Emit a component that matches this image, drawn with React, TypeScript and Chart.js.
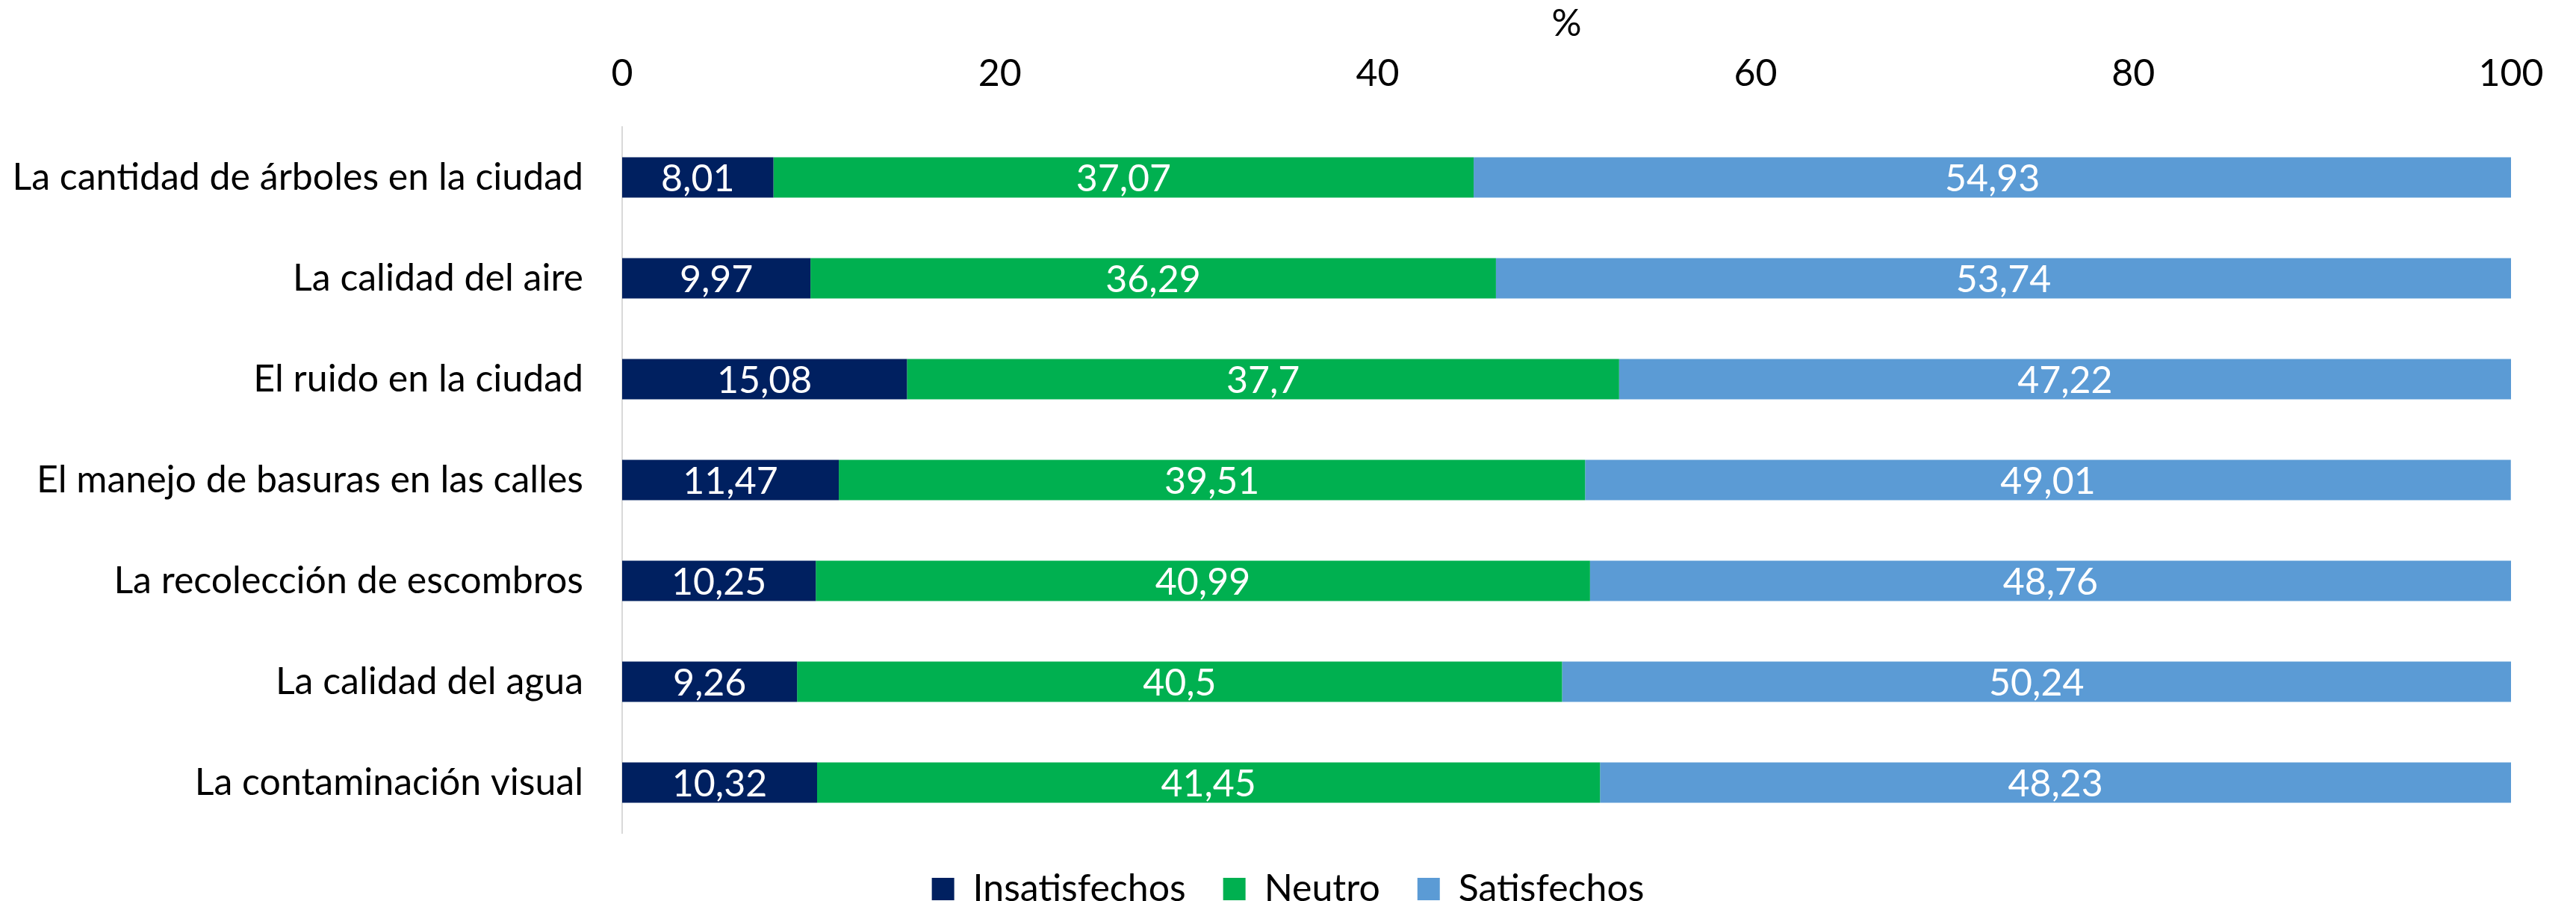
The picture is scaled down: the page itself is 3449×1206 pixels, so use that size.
import React, { useEffect, useRef } from "react";
import { Chart, registerables } from "chart.js";

Chart.register(...registerables);

const categories = [
  "La cantidad de árboles en la ciudad",
  "La calidad del aire",
  "El ruido en la ciudad",
  "El manejo de basuras en las calles",
  "La recolección de escombros",
  "La calidad del agua",
  "La contaminación visual",
];

const insatisfechos = [8.01, 9.97, 15.08, 11.47, 10.25, 9.26, 10.32];
const neutro = [37.07, 36.29, 37.7, 39.51, 40.99, 40.5, 41.45];
const satisfechos = [54.93, 53.74, 47.22, 49.01, 48.76, 50.24, 48.23];

const seriesNames = ["Insatisfechos", "Neutro", "Satisfechos"];
const xTicks = [0, 20, 40, 60, 80, 100];
const axisTitle = "%";

const W = 3449;
const H = 1206;
const FONT_FAMILY = "Lato, 'Noto Sans', sans-serif";
const FONT_SIZE = 50;

const fmt = (v: number) => String(v).replace(".", ",");

const dataLabelPlugin = {
  id: "segLabels",
  afterDatasetsDraw(chart: any) {
    const ctx = chart.ctx;
    ctx.save();
    ctx.fillStyle = "#FFFFFF";
    ctx.font = `${FONT_SIZE}px ${FONT_FAMILY}`;
    ctx.textAlign = "center";
    ctx.textBaseline = "middle";
    chart.data.datasets.forEach((ds: any, di: number) => {
      const meta = chart.getDatasetMeta(di);
      meta.data.forEach((bar: any, i: number) => {
        const p = bar.getProps(["x", "y", "base"], true);
        ctx.fillText(fmt(ds.data[i]), (p.x + p.base) / 2, p.y + 2);
      });
    });
    ctx.restore();
  },
};

const legendHeightPlugin = {
  id: "legendHeight",
  beforeLayout(chart: any) {
    const lg = chart.legend;
    if (lg && !lg.__patched) {
      const orig = lg.fit.bind(lg);
      lg.fit = function () {
        orig();
        this.height = 91;
      };
      lg.__patched = true;
    }
  },
  afterLayout(chart: any) {
    const lg = chart.legend;
    if (lg) {
      lg.left = 0;
      lg.right = W;
      lg.width = W;
    }
  },
};

export default function App() {
  const ref = useRef<HTMLCanvasElement | null>(null);

  useEffect(() => {
    if (!ref.current) return;
    const chart = new Chart(ref.current, {
      type: "bar",
      data: {
        labels: categories,
        datasets: [
          { label: seriesNames[0], data: insatisfechos, backgroundColor: "#002060" },
          { label: seriesNames[1], data: neutro, backgroundColor: "#00B050" },
          { label: seriesNames[2], data: satisfechos, backgroundColor: "#5B9BD5" },
        ],
      },
      options: {
        indexAxis: "y",
        animation: false,
        responsive: false,
        devicePixelRatio: 1,
        layout: { padding: { left: 0, right: 87, top: 0, bottom: 0 } },
        datasets: {
          bar: { categoryPercentage: 1, barPercentage: 0.4, borderWidth: 0 },
        },
        plugins: {
          legend: {
            position: "bottom",
            labels: {
              boxWidth: 30,
              boxHeight: 30,
              padding: 50,
              color: "#000",
              font: { family: FONT_FAMILY, size: FONT_SIZE },
            },
          },
          tooltip: { enabled: false },
          title: { display: false },
        },
        scales: {
          x: {
            position: "top",
            stacked: true,
            min: 0,
            max: 100,
            afterBuildTicks(scale: any) {
              scale.ticks = xTicks.map((v) => ({ value: v }));
            },
            afterFit(scale: any) {
              scale.height = 170;
            },
            grid: { display: false, drawTicks: false },
            border: { display: false },
            ticks: {
              padding: 41,
              color: "#000",
              maxRotation: 0,
              font: { family: FONT_FAMILY, size: FONT_SIZE },
            },
            title: {
              display: true,
              text: axisTitle,
              color: "#000",
              padding: { top: 2, bottom: 0 },
              font: { family: FONT_FAMILY, size: FONT_SIZE },
            },
          },
          y: {
            stacked: true,
            afterFit(scale: any) {
              scale.width = 833;
            },
            grid: { display: false, drawTicks: false },
            border: { display: true, color: "#D9D9D9", width: 2 },
            ticks: {
              padding: 52,
              color: "#000",
              font: { family: FONT_FAMILY, size: FONT_SIZE },
            },
          },
        },
      },
      plugins: [dataLabelPlugin, legendHeightPlugin],
    } as any);
    return () => chart.destroy();
  }, []);

  return (
    <div style={{ position: "absolute", left: 0, top: 0, width: W, height: H, background: "#fff" }}>
      <canvas ref={ref} width={W} height={H} style={{ width: W, height: H, display: "block" }} />
    </div>
  );
}
